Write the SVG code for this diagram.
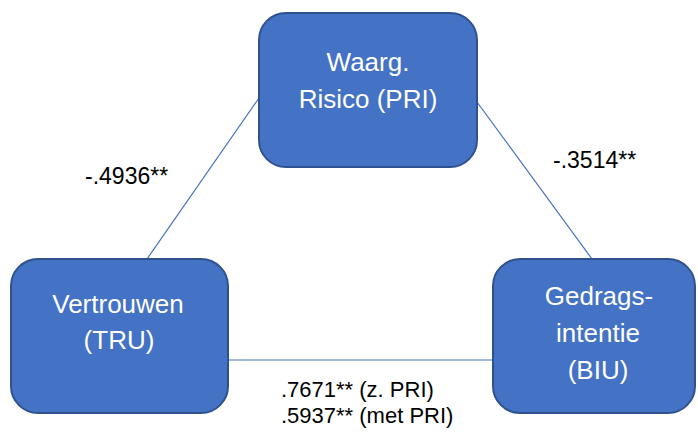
<svg xmlns="http://www.w3.org/2000/svg" width="698" height="434" viewBox="0 0 698 434">
<style>
.box{fill:#4472C4;stroke:#2F528F;stroke-width:2}
.nt{font-family:"Liberation Sans",Arial,sans-serif;font-size:26px;fill:#FFFFFF;text-anchor:middle}
.lbl{font-family:"Liberation Sans",Arial,sans-serif;font-size:23px;fill:#000000}
.con line{stroke:#4472C4;stroke-width:1.2}
</style>
<rect width="698" height="434" fill="#FFFFFF"/>
<g id="connectors" class="con">
<line x1="259" y1="98" x2="147" y2="259"/>
<line x1="477" y1="102" x2="592" y2="259"/>
<line x1="228" y1="360" x2="493" y2="360"/>
</g>
<g id="node-pri">
<rect class="box" x="259" y="13" width="218" height="154" rx="27"/>
<text class="nt" x="368" y="71">Waarg.</text>
<text class="nt" x="368" y="108">Risico (PRI)</text>
</g>
<g id="node-tru">
<rect class="box" x="11" y="259" width="217" height="154" rx="27"/>
<text class="nt" x="118" y="313">Vertrouwen</text>
<text class="nt" x="119" y="349">(TRU)</text>
</g>
<g id="node-biu">
<rect class="box" x="493" y="259" width="202" height="154" rx="27"/>
<text class="nt" x="599" y="305">Gedrags-</text>
<text class="nt" x="598" y="342">intentie</text>
<text class="nt" x="598" y="379">(BIU)</text>
</g>
<g id="labels">
<text class="lbl" x="85" y="184">-.4936**</text>
<text class="lbl" x="553" y="168">-.3514**</text>
<text class="lbl" x="281" y="397" style="font-size:22px">.7671** (z. PRI)</text>
<text class="lbl" x="281" y="423" style="font-size:22px">.5937** (met PRI)</text>
</g>
</svg>
